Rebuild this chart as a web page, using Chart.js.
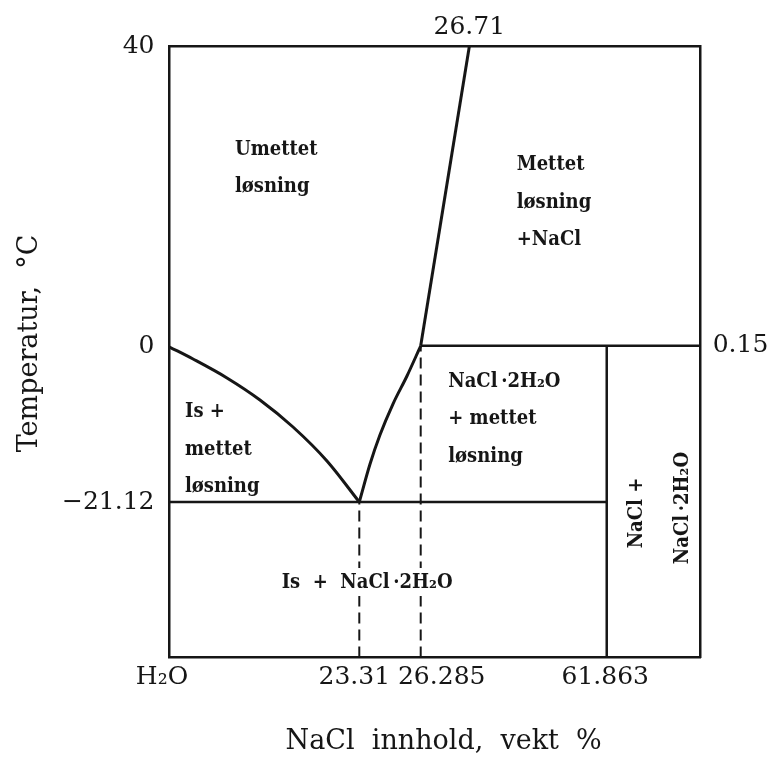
<!DOCTYPE html>
<html>
<head>
<meta charset="utf-8">
<script src="https://cdn.jsdelivr.net/npm/chart.js@4.4.1/dist/chart.umd.min.js"></script>
<style>
  html, body { margin: 0; padding: 0; background: #fff; }
  canvas { display: block; }
</style>
</head>
<body>
<canvas id="phase" width="775" height="762"></canvas>
<script>
// NaCl - H2O phase diagram: x in wt% NaCl, y in deg C
const iceX = [0, 2.89, 7.06, 11.11, 15.17, 19.34, 23.31];
const iceT = [0, -1.64, -4.22, -7.22, -10.9, -15.53, -21.12];
const hydrateX = [23.31, 23.83, 24.31, 24.94, 25.62, 26.285];
const hydrateT = [-21.12, -15.94, -11.99, -7.77, -3.95, 0.15];
const saltX = [26.285, 26.71];
const saltT = [0.15, 40];

const eutecticX = 23.31;
const eutecticT = -21.12;
const peritecticX = 26.285;
const peritecticT = 0.15;
const dihydrateX = 61.863;

const xMin = 0, xMax = 100;
const yMin = -42, yMax = 40;

const bottomTicks = [0, 23.31, 26.285, 61.863];
const bottomLabels = ['H₂O', '23.31', '26.285', '61.863'];
const topTicks = [26.71];
const topLabels = ['26.71'];
const leftTicks = [40, 0, -21.12];
const leftLabels = ['40', '0', '−21.12'];
const rightTicks = [0.15];
const rightLabels = ['0.15'];

const regionText = [
  ['Umettet', 'løsning'],
  ['Mettet', 'løsning', '+NaCl'],
  ['Is +', 'mettet', 'løsning'],
  ['NaCl\u2009·2H₂O', '+ mettet', 'løsning'],
  ['Is  +  NaCl\u2009·2H₂O'],
  ['NaCl +'],
  ['NaCl\u2009·2H₂O']
];

// where each label sits (data coords of first baseline), turned or not, blanked behind or not
const regionAnchor = [
  [8.04, 25.56], [38.84, 23.56], [1.9, -9.54], [26.526, -5.45],
  [13.78, -32.67], [76.18, -22.6], [94.85, -21.93]
];
const regionTurned = [false, false, false, false, false, true, true];
const regionBlank = [false, false, false, false, true, false, false];

const INK = '#161616';

// the printed diagram is not to scale, each axis is stretched piece by piece
const STRETCH = {
  x: { at: [0, 23.31, 26.285, 26.71, 61.863, 100], frac: [0, 0.3573, 0.4729, 0.5644, 0.8231, 1] },
  y: { at: [-42, -21.12, 0, 40], frac: [0, 0.2545, 0.5082, 1] }
};
// sideways shift of some tick labels, px
const LABEL_NUDGE = { x: [-7.5, -5, 21, -1.5] };

function toFrac(v, s) {
  const a = s.at, f = s.frac;
  if (v <= a[0]) return f[0];
  for (let i = 1; i < a.length; i++) {
    if (v <= a[i]) return f[i - 1] + (v - a[i - 1]) / (a[i] - a[i - 1]) * (f[i] - f[i - 1]);
  }
  return 1;
}
function fromFrac(d, s) {
  const a = s.at, f = s.frac;
  for (let i = 1; i < f.length; i++) {
    if (d <= f[i]) return a[i - 1] + (d - f[i - 1]) / (f[i] - f[i - 1]) * (a[i] - a[i - 1]);
  }
  return a[a.length - 1];
}

class StretchScale extends Chart.LinearScale {
  static id = 'stretch';
  static defaults = Chart.LinearScale.defaults;
  getPixelForValue(value) {
    return this.getPixelForDecimal(toFrac(value, STRETCH[this.axis]));
  }
  getValueForPixel(pixel) {
    return fromFrac(this.getDecimalForPixel(pixel), STRETCH[this.axis]);
  }
  getPixelForTick(index) {
    const nudge = LABEL_NUDGE[this.id];
    return super.getPixelForTick(index) + (nudge ? nudge[index] || 0 : 0);
  }
}
Chart.register(StretchScale);

function line(xs, ys, extra) {
  return Object.assign({
    data: xs.map((v, i) => ({ x: v, y: ys[i] })),
    borderColor: INK,
    borderWidth: 2.5,
    pointRadius: 0,
    fill: false
  }, extra || {});
}

const tickFont = { family: 'DejaVu Serif', size: 25 };
const titleFont = { family: 'DejaVu Serif', size: 27 };

function axis(position, ticks, labels, size, padding, extra) {
  const horizontal = position === 'top' || position === 'bottom';
  return Object.assign({
    type: 'stretch',
    position: position,
    min: horizontal ? xMin : yMin,
    max: horizontal ? xMax : yMax,
    bounds: 'data',
    grid: { display: false, drawTicks: false },
    border: { display: true, color: INK, width: 2.5 },
    ticks: {
      autoSkip: false, maxRotation: 0, padding: padding, color: INK, font: tickFont,
      callback: (v, i) => labels[i]
    },
    afterBuildTicks: s => { s.ticks = ticks.map(v => ({ value: v })); },
    afterFit: s => { if (horizontal) s.height = size; else s.width = size; }
  }, extra || {});
}

const regionLabels = {
  id: 'regionLabels',
  afterDatasetsDraw(chart) {
    const { ctx, scales: { x, y } } = chart;
    ctx.save();
    ctx.font = 'bold 20px "DejaVu Serif Condensed", "DejaVu Serif"';
    ctx.textBaseline = 'alphabetic';
    regionText.forEach((lines, i) => {
      const px = x.getPixelForValue(regionAnchor[i][0]);
      const py = y.getPixelForValue(regionAnchor[i][1]);
      ctx.save();
      ctx.translate(px, py);
      if (regionTurned[i]) {
        ctx.rotate(-Math.PI / 2);
        ctx.textAlign = 'center';
      } else {
        ctx.textAlign = 'left';
      }
      lines.forEach((t, k) => {
        if (regionBlank[i]) {
          ctx.fillStyle = '#fff';
          ctx.fillRect(-3, k * 37.5 - 20, ctx.measureText(t).width + 6, 28);
        }
        ctx.fillStyle = INK;
        ctx.fillText(t, 0, k * 37.5);
      });
      ctx.restore();
    });
    ctx.restore();
  }
};

new Chart(document.getElementById('phase'), {
  type: 'line',
  data: {
    datasets: [
      line(iceX, iceT, { borderWidth: 3, cubicInterpolationMode: 'monotone' }),
      line(hydrateX, hydrateT, { borderWidth: 3, cubicInterpolationMode: 'monotone' }),
      line(saltX, saltT, { borderWidth: 3 }),
      line([xMin, dihydrateX], [eutecticT, eutecticT]),
      line([peritecticX, xMax], [peritecticT, peritecticT]),
      line([dihydrateX, dihydrateX], [yMin, peritecticT]),
      line([eutecticX, eutecticX], [yMin, eutecticT], { borderWidth: 2, borderDash: [11, 6] }),
      line([peritecticX, peritecticX], [yMin, peritecticT], { borderWidth: 2, borderDash: [11, 6] })
    ]
  },
  options: {
    responsive: false,
    animation: false,
    devicePixelRatio: 1,
    layout: { padding: 0 },
    plugins: { legend: { display: false }, tooltip: { enabled: false } },
    scales: {
      x: axis('bottom', bottomTicks, bottomLabels, 104.5, 5, {
        // leading spaces move the centred title a little right, as printed
        title: { display: true, text: '  NaCl  innhold,  vekt  %', color: INK, font: titleFont, padding: { top: 0, bottom: 4 } }
      }),
      x2: axis('top', topTicks, topLabels, 46.5, 4),
      y: axis('left', leftTicks, leftLabels, 169.5, 15, {
        title: { display: true, text: '  Temperatur,  °C', color: INK, font: titleFont, padding: { top: 14, bottom: 0 } }
      }),
      y2: axis('right', rightTicks, rightLabels, 74.3, 12)
    }
  },
  plugins: [regionLabels]
});
</script>
</body>
</html>
